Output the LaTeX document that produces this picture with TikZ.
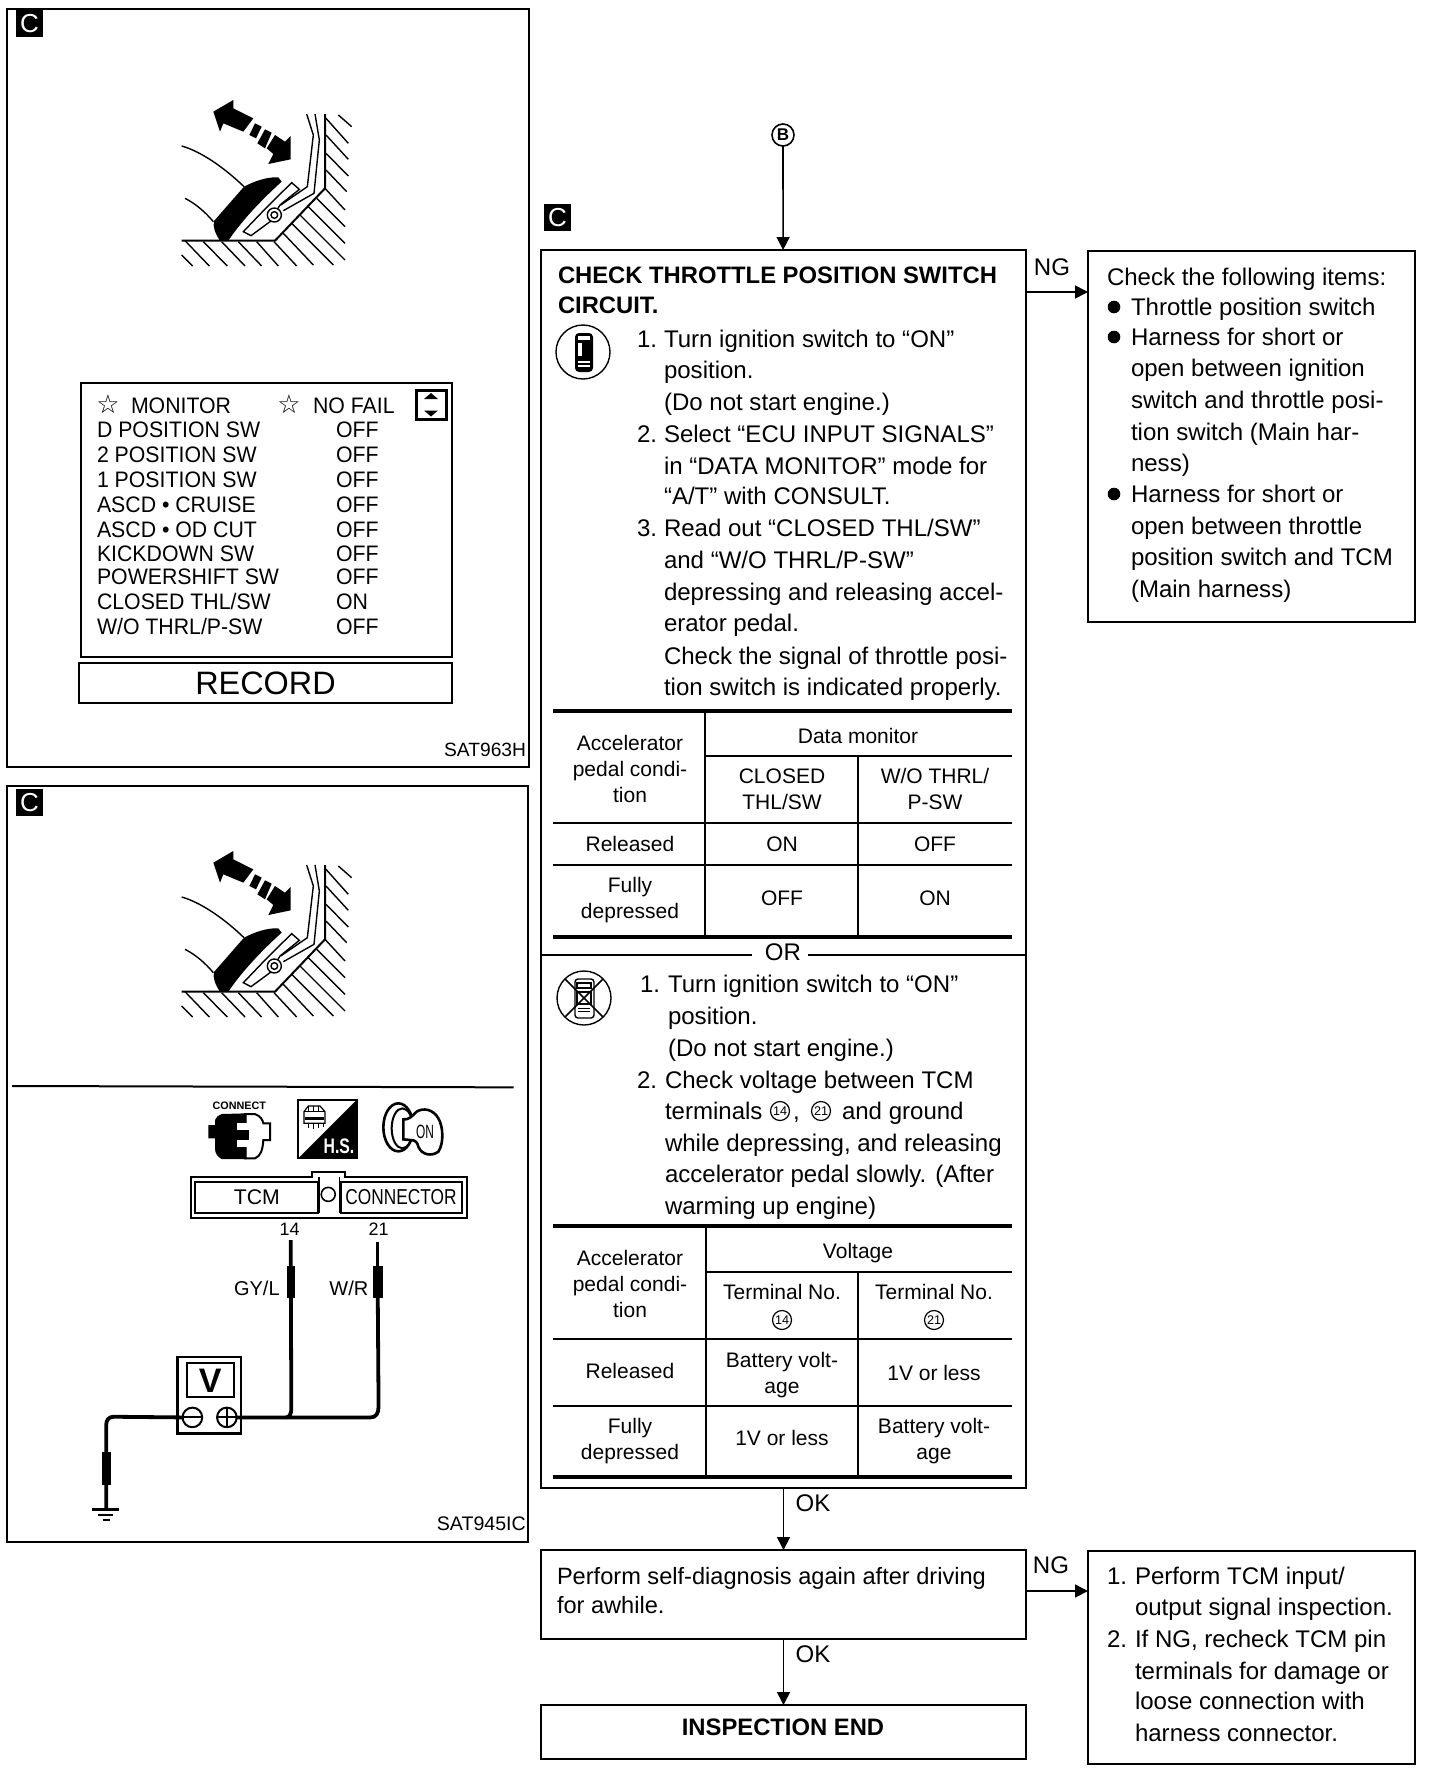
\documentclass[tikz,border=0pt]{standalone}
\usepackage{fontspec}
\setmainfont{Liberation Sans}
\newfontfamily\djv{DejaVu Sans}
\usetikzlibrary{arrows.meta,calc}
\newcounter{tn}
\tikzset{
  lbl/.style={inner sep=0pt,outer sep=0pt,font=\fontsize{12.02}{14}\selectfont},
  body/.style={yshift=-.5pt},
  mon/.style={font=\fontsize{11.2}{13}\selectfont,xscale=.95,yshift=.5pt},
  tab/.style={font=\fontsize{10.5}{13}\selectfont},
  ttl/.style={font=\bfseries\fontsize{11.9}{14}\selectfont,yshift=.5pt},
  box/.style={draw,line width=1pt,inner sep=0pt,outer sep=0pt,anchor=north west},
  frame/.style={draw,line width=1.1pt},
  flow/.style={line width=.8pt,-{Triangle[length=6.5pt,width=6.5pt]}},
  rule/.style={line width=.7pt},
  heavy/.style={line width=1.6pt},
  wire/.style={line width=1.9pt,line join=round},
  badge/.style={fill=black,text=white,inner sep=0pt,outer sep=0pt,minimum width=13.5pt,minimum height=13.5pt,font=\fontsize{13}{13}\selectfont,anchor=north west},
  circnum/.style={circle,draw,line width=.6pt,inner sep=0pt,outer sep=0pt,minimum size=9.5pt,font=\fontsize{6.3}{7}\selectfont},
  hatch/.style={line width=.7pt},
  starmark/.style={font={\djv\fontsize{13}{14}\selectfont}}
}
\newcommand\tl[4][]{\stepcounter{tn}\node[lbl,anchor=base west,body,#1] (t\thetn) at (#2,#3) {#4};}
\newcommand\tc[4][]{\stepcounter{tn}\node[lbl,anchor=base,#1] (t\thetn) at (#2,#3) {#4};}
\newcommand\tr[4][]{\stepcounter{tn}\node[lbl,anchor=base east,#1] (t\thetn) at (#2,#3) {#4};}
\newcommand\bul[2]{\fill (#1,#2) circle (6.3);}
\newcommand\pedalart[1]{%
\begin{scope}[shift={(170,90+#1)},x=.16667pt,y=-.16667pt]
  \foreach \a/\b/\c/\d in {35/495/68/528,45/452/118/528,100/455/172/528,155/455/225/528,205/455/275/528,260/455/325/528,312/455/380/528,340/430/430/525,365/400/490/525,390/375/525/510,415/350/525/460,440/325/525/410,465/295/525/360,468/240/530/305,468/190/535/258,468/135/535/208,468/85/535/160,505/75/545/110}
    \draw[hatch] (\a,\b) -- (\c,\d);
  \draw[line width=1pt] (35,452) -- (315,452) -- (465,295) -- (465,72);
  \draw[hatch] (35,168) .. controls (95,185) and (165,235) .. (222,290);
  \draw[hatch] (45,325) .. controls (75,340) and (105,365) .. (130,395);
  \fill (222,290) .. controls (255,272) and (295,260) .. (325,262) -- (335,275)
     .. controls (285,320) and (220,385) .. (175,452) -- (150,452)
     .. controls (135,430) and (128,410) .. (132,393) -- cycle;
  \draw[line width=.7pt,fill=white] (220,425) -- (290,352) -- (365,278) -- (388,298) -- (330,345) -- (300,395) -- (243,437) -- cycle;
  \draw[line width=.7pt,fill=white] (313,375) circle (21);
  \draw[line width=.7pt,fill=white] (313,375) circle (10);
  \draw[line width=.7pt] (410,72) -- (430,135) -- (412,290) -- (332,345);
  \draw[line width=.7pt] (435,72) -- (448,150) -- (432,310) -- (340,362);
  \fill (190,30) -- (130,65) -- (150,125) -- (160,100) -- (220,125) -- (250,85) -- (190,55) -- cycle;
  \fill (255,100) -- (275,110) -- (258,145) -- (238,135) -- cycle;
  \fill (285,118) -- (305,128) -- (285,175) -- (262,160) -- cycle;
  \fill (315,135) -- (345,155) -- (362,138) -- (362,208) -- (295,222) -- (310,192) -- (290,175) -- cycle;
\end{scope}}
\begin{document}
\begin{tikzpicture}[x=.5pt,y=-.5pt]
\useasboundingbox (0,0) rectangle (1440,1772);
%% ---------- left panel 1
\draw[frame] (7,9) rectangle (529,767);
\node[badge] (c1) at (16,10) {C};
\pedalart{0}
\draw[line width=1.3pt] (81,383) rectangle (452,657);
\foreach \nm/\yy/\st in {a/437/OFF,b/462/OFF,c/487/OFF,d/512/OFF,e/537/OFF,f/561/OFF,g/584/OFF,h/609/ON,i/634/OFF}
  {\node[lbl,mon,yshift=-.5pt,anchor=base west] (st\nm) at (336,\yy) {\st};}
\tl[mon]{97}{437}{D POSITION SW}
\tl[mon]{97}{462}{2 POSITION SW}
\tl[mon]{97}{487}{1 POSITION SW}
\tl[mon]{97}{512}{ASCD • CRUISE}
\tl[mon]{97}{537}{ASCD • OD CUT}
\tl[mon]{97}{561}{KICKDOWN SW}
\tl[mon]{97}{584}{POWERSHIFT SW}
\tl[mon]{97}{609}{CLOSED THL/SW}
\tl[mon]{97}{634}{W/O THRL/P-SW}
\tl[mon]{131}{413}{MONITOR}
\tl[mon]{313}{413}{NO FAIL}
\tc[starmark]{108}{413}{☆}
\tc[starmark]{289}{413}{☆}
\draw[line width=1.5pt] (416,390) rectangle (446,419);
\fill (431,393) -- (424,399) -- (438,399) -- cycle;
\fill (431,416.5) -- (424,410.5) -- (438,410.5) -- cycle;
\node[draw,line width=1.2pt,inner sep=0pt,outer sep=0pt,minimum width=186.5pt,minimum height=20pt,anchor=north west,font=\fontsize{16.2}{18}\selectfont] (record) at (79,663) {RECORD};
\tr[font=\fontsize{9.6}{11}\selectfont]{526}{756}{SAT963H}
%% ---------- left panel 2
\draw[frame] (7,786) rectangle (528,1542);
\node[badge] (c2) at (16,789) {C};
\pedalart{751}
\begin{scope}[shift={(190,1090)},x=.16667pt,y=-.16667pt]
  % connect icon
  \tc[font=\bfseries\fontsize{5.4}{6}\selectfont]{148}{58}{CONNECT}
  \draw[line width=1pt,fill=white] (165,72) -- (195,72) .. controls (212,78) and (218,90) .. (220,100) -- (240,100) -- (240,150) -- (220,150) .. controls (218,180) and (212,198) .. (195,205) -- (165,205) -- cycle;
  \fill (95,72) -- (170,70) -- (170,207) -- (95,207) .. controls (82,200) and (75,190) .. (75,175) -- (75,145) -- (55,145) -- (55,105) -- (75,105) -- (75,90) .. controls (78,82) and (85,75) .. (95,72) -- cycle;
  \fill[white] (140,100) rectangle (171,120);
  \fill[white] (140,150) rectangle (171,172);
  \fill (165,120) rectangle (178,150);
  % H.S. icon
  \draw[line width=1.1pt] (325,30) rectangle (500,205);
  \fill (500,30) -- (500,205) -- (325,205) -- cycle;
  \tc[text=white,font=\bfseries\fontsize{10.5}{11}\selectfont,xscale=.75]{447}{190}{H.S.}
  \draw[line width=.6pt,fill=white] (342,65) -- (355,48) -- (390,48) -- (405,65) -- (405,100) -- (342,100) -- cycle;
  \draw[line width=.5pt] (342,65) -- (405,65) (355,48) -- (355,65) (370,48) -- (370,65) (385,48) -- (385,65);
  \draw[line width=.5pt] (355,100) -- (355,115) (370,100) -- (370,118) (385,100) -- (385,115) (400,100) -- (400,112);
  \fill (345,82) rectangle (402,90);
  % key icon
  \draw[line width=1.3pt] (625,112) ellipse (45 and 72);
  \draw[line width=1pt] (637,115) ellipse (32 and 60);
  \draw[line width=1.3pt,fill=white] (640,88) .. controls (655,90) and (665,80) .. (680,65) .. controls (700,52) and (730,58) .. (745,85)
     .. controls (760,110) and (762,160) .. (745,185) .. controls (725,200) and (695,195) .. (685,170)
     .. controls (682,158) and (678,150) .. (660,150) -- (640,148) -- cycle;
  \tc[font=\fontsize{9.6}{10}\selectfont,xscale=.62]{705}{145}{ON}
\end{scope}
\begin{scope}[shift={(0,1060)},x=.1724pt,y=-.1667pt]
  \draw[line width=1pt] (35,78) -- (1490,82);
  % connector
  \draw[line width=1.1pt] (553,350) -- (905,350) -- (905,335) -- (1000,335) -- (1000,350) -- (1355,350) -- (1355,475) -- (553,475) -- cycle;
  \draw[line width=1pt] (567,365) rectangle (922,458);
  \draw[line width=1pt] (988,365) rectangle (1340,458);
  \draw[line width=.8pt] (925,350) -- (925,458) (985,350) -- (985,458);
  \node[circle,draw,line width=.8pt,minimum size=7pt,inner sep=0pt] (hole) at (952,403) {};
  \tc[font=\fontsize{10.6}{12}\selectfont]{745}{432}{TCM}
  \tc[font=\fontsize{10.8}{12}\selectfont,xscale=.8]{1163}{432}{CONNECTOR}
  \tc[font=\fontsize{9}{10}\selectfont]{840}{525}{14}
  \tc[font=\fontsize{9}{10}\selectfont]{1098}{525}{21}
  \tc[font=\fontsize{10}{12}\selectfont]{745}{705}{GY/L}
  \tc[font=\fontsize{10}{12}\selectfont]{1012}{705}{W/R}
  % voltmeter
  \node[draw,line width=1.1pt,inner sep=0pt,outer sep=0pt,minimum width=23.5pt,minimum height=17pt,anchor=center] (vscr) at (610,960) {};
  \draw[line width=1.1pt] (515,890) rectangle (700,1120);
  \tc[font=\bfseries\fontsize{17}{18}\selectfont]{610}{998}{V}
  \node[circle,draw,line width=1pt,minimum size=9.8pt,inner sep=0pt,outer sep=0pt] (vm) at (558,1072) {};
  \node[circle,draw,line width=1pt,minimum size=9.8pt,inner sep=0pt,outer sep=0pt] (vp) at (658,1072) {};
  \draw[line width=1pt] (vm.west) -- (vm.east) (vp.west) -- (vp.east) (vp.north) -- (vp.south);
  % wires
  \draw[wire] (vp.east) -- (1075,1072) .. controls (1090,1072) and (1098,1060) .. (1098,1040) -- (1095,620);
  \draw[line width=1.5pt] (1095,620) -- (1095,545);
  \draw[wire] (830,1072) .. controls (840,1072) and (845,1060) .. (845,1045) -- (843,540);
  \draw[wire] (vm.west) -- (330,1070) .. controls (315,1070) and (308,1080) .. (308,1095) -- (308,1348);
  \fill (832,618) rectangle (857,715);
  \fill (1082,618) rectangle (1110,715);
  \fill (295,1175) rectangle (322,1275);
  \draw[line width=1.2pt] (268,1348) -- (345,1348);
  \draw[line width=1.2pt] (285,1365) -- (328,1365);
  \draw[line width=1.2pt] (298,1380) -- (318,1380);
  \tr[font=\fontsize{9.8}{11}\selectfont]{1525}{1410}{SAT945IC}
\end{scope}
%% ---------- flow
\node[circnum,line width=.8pt,minimum size=11pt,font=\bfseries\fontsize{8.5}{9}\selectfont] (b) at (783,135) {B};
\node[badge] (c3) at (544,204) {C};
\node[box,minimum width=242.5pt,minimum height=619pt] (main) at (541,250) {};
\draw[flow] (b) -- (main);
\tl[ttl]{558}{283}{CHECK THROTTLE POSITION SWITCH}
\tl[ttl]{558}{313}{CIRCUIT.}
% phone
\node[circle,draw,line width=.7pt,minimum size=27pt,inner sep=0pt,outer sep=0pt] (ph1) at (583,352) {};
\fill[rounded corners=2pt] (575,333) rectangle (593,372);
\fill[white] (578,336) rectangle (590,340);
\fill[white] (578,343) rectangle (582,356);
\fill[white] (578,361) rectangle (590,362.5);
\fill[white] (578,365) rectangle (590,366.5);
% steps
\tl{637}{346}{1.}\tl{664}{346}{Turn ignition switch to “ON”}
\tl{664}{377}{position.}
\tl{664}{409}{(Do not start engine.)}
\tl{637}{441}{2.}\tl{664}{441}{Select “ECU INPUT SIGNALS”}
\tl{664}{473}{in “DATA MONITOR” mode for}
\tl{664}{503}{“A/T” with CONSULT.}
\tl{637}{535}{3.}\tl{664}{535}{Read out “CLOSED THL/SW”}
\tl{664}{567}{and “W/O THRL/P-SW”}
\tl{664}{599}{depressing and releasing accel-}
\tl{664}{630}{erator pedal.}
\tl{664}{663}{Check the signal of throttle posi-}
\tl{664}{694}{tion switch is indicated properly.}
% table 1
\draw[heavy] (553,711) -- (1012,711);
\draw[rule] (705,756) -- (1012,756);
\draw[rule] (553,823) -- (1012,823);
\draw[rule] (553,865) -- (1012,865);
\draw[heavy] (553,937) -- (1012,937);
\draw[rule] (705,711) -- (705,937);
\draw[rule] (858,756) -- (858,937);
\tc[tab]{630}{750}{Accelerator}
\tc[tab]{630}{776}{pedal condi-}
\tc[tab]{630}{802}{tion}
\tc[tab]{858}{743}{Data monitor}
\tc[tab]{782}{783}{CLOSED}
\tc[tab]{782}{809}{THL/SW}
\tc[tab]{935}{783}{W/O THRL/}
\tc[tab]{935}{809}{P-SW}
\tc[tab]{630}{851}{Released}
\tc[tab]{782}{851}{ON}
\tc[tab]{935}{851}{OFF}
\tc[tab]{630}{892}{Fully}
\tc[tab]{630}{918}{depressed}
\tc[tab]{782}{905}{OFF}
\tc[tab]{935}{905}{ON}
% OR
\coordinate (orl) at (main.west |- 0,955);
\coordinate (orr) at (main.east |- 0,955);
\tc{783}{960}{OR}
\draw[rule] (orl) -- (752,955);
\draw[rule] (808,955) -- (orr);
% no-phone
\node[circle,draw,line width=.7pt,minimum size=27pt,inner sep=0pt,outer sep=0pt] (ph2) at (584,998) {};
\draw[line width=.7pt,rounded corners=1.5pt,fill=white] (575,979) rectangle (594,1018);
\draw[line width=.7pt] (577,983) rectangle (591,988);
\draw[line width=.7pt] (577,992) rectangle (591,1004);
\draw[line width=.5pt] (578,1008) -- (590,1008) (578,1011) -- (590,1011);
\draw[line width=.8pt] (ph2.north west) -- (ph2.south east);
\draw[line width=.8pt] (ph2.north east) -- (ph2.south west);
\tl{640}{991}{1.}\tl{668}{991}{Turn ignition switch to “ON”}
\tl{668}{1023}{position.}
\tl{668}{1055}{(Do not start engine.)}
\tl{637}{1087}{2.}\tl{665}{1087}{Check voltage between TCM}
\tl{665}{1118}{terminals}
\node[circnum] (n14) at (780,1111) {14};
\tl{793}{1118}{,}
\node[circnum] (n21) at (821,1111) {21};
\tl{842}{1118}{and ground}
\tl{665}{1150}{while depressing, and releasing}
\tl{665}{1181}{accelerator pedal slowly. (After}
\tl{665}{1213}{warming up engine)}
% table 2
\draw[heavy] (553,1226) -- (1012,1226);
\draw[rule] (706,1272) -- (1012,1272);
\draw[rule] (553,1339) -- (1012,1339);
\draw[rule] (553,1406) -- (1012,1406);
\draw[heavy] (553,1477) -- (1012,1477);
\draw[rule] (706,1226) -- (706,1477);
\draw[rule] (858,1272) -- (858,1477);
\tc[tab]{630}{1265}{Accelerator}
\tc[tab]{630}{1291}{pedal condi-}
\tc[tab]{630}{1317}{tion}
\tc[tab]{858}{1258}{Voltage}
\tc[tab]{782}{1299}{Terminal No.}
\tc[tab]{934}{1299}{Terminal No.}
\node[circnum] (n14b) at (782,1320) {14};
\node[circnum] (n21b) at (934,1320) {21};
\tc[tab]{630}{1378}{Released}
\tc[tab]{782}{1367}{Battery volt-}
\tc[tab]{782}{1393}{age}
\tc[tab]{934}{1380}{1V or less}
\tc[tab]{630}{1433}{Fully}
\tc[tab]{630}{1459}{depressed}
\tc[tab]{782}{1445}{1V or less}
\tc[tab]{934}{1433}{Battery volt-}
\tc[tab]{934}{1459}{age}
%% right box 1
\node[box,minimum width=163.5pt,minimum height=185.5pt] (items) at (1088,251) {};
\coordinate (ng1) at (main.east |- 0,292);
\draw[flow] (ng1) -- (ng1 -| items.west);
\tc{1052}{275}{NG}
\tl{1107}{284}{Check the following items:}
\bul{1114}{307}\tl{1131}{314}{Throttle position switch}
\bul{1114}{337}\tl{1131}{344}{Harness for short or}
\tl{1131}{375}{open between ignition}
\tl{1131}{407}{switch and throttle posi-}
\tl{1131}{439}{tion switch (Main har-}
\tl{1131}{470}{ness)}
\bul{1114}{494}\tl{1131}{501}{Harness for short or}
\tl{1131}{533}{open between throttle}
\tl{1131}{564}{position switch and TCM}
\tl{1131}{596}{(Main harness)}
%% lower boxes
\node[box,minimum width=242.5pt,minimum height=44.5pt] (self) at (541,1550) {};
\draw[flow] (main) -- (self);
\tc{813}{1511}{OK}
\tl[font=\fontsize{11.8}{14}\selectfont]{557}{1583}{Perform self-diagnosis again after driving}
\tl[font=\fontsize{11.8}{14}\selectfont]{557}{1612}{for awhile.}
\node[box,minimum width=163.5pt,minimum height=106.5pt] (insp) at (1088,1551) {};
\coordinate (ng2) at (self.east |- 0,1591);
\draw[flow] (ng2) -- (ng2 -| insp.west);
\tc{1051}{1573}{NG}
\tl{1107}{1583}{1.}\tl{1135}{1583}{Perform TCM input/}
\tl{1135}{1614}{output signal inspection.}
\tl{1107}{1646}{2.}\tl{1135}{1646}{If NG, recheck TCM pin}
\tl{1135}{1678}{terminals for damage or}
\tl{1135}{1708}{loose connection with}
\tl{1135}{1740}{harness connector.}
\node[box,minimum width=242.5pt,minimum height=27pt] (endb) at (541,1705) {};
\draw[flow] (self) -- (endb);
\tc{813}{1662}{OK}
\tc[ttl,yshift=-.5pt]{783}{1735}{INSPECTION END}
\end{tikzpicture}
\end{document}
